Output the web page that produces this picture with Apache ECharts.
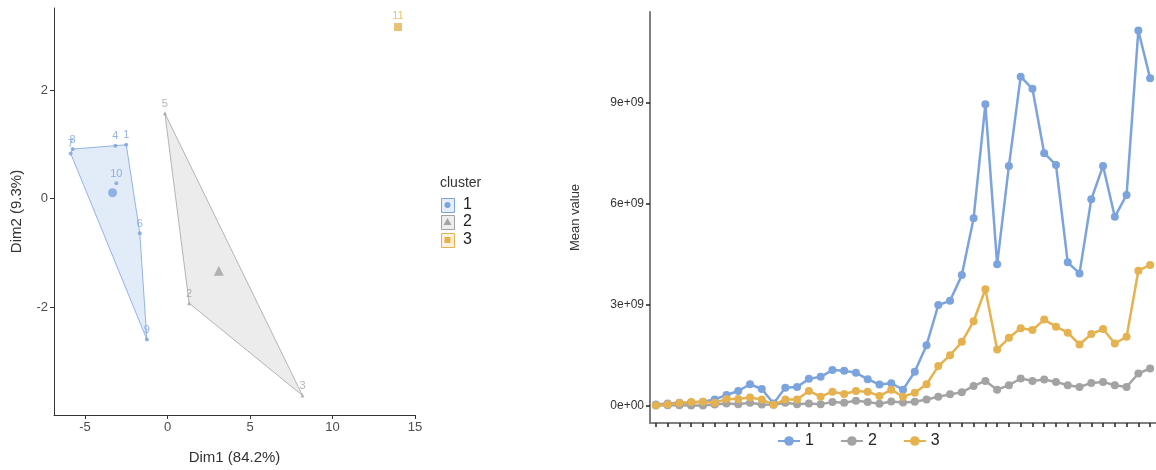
<!DOCTYPE html>
<html>
<head>
<meta charset="utf-8">
<script src="https://cdn.jsdelivr.net/npm/echarts@6/dist/echarts.min.js"></script>
<style>
  html, body { margin: 0; background: #fff; }
  #chart { width: 1156px; height: 470px; }
</style>
</head>
<body>
<div id="chart"></div>
<script>
// ---- left panel: cluster plot ----
var ptNames   = ['1', '2', '3', '4', '5', '6', '7', '8', '9', '10', '11'];
var dim1      = [-2.50, 1.31, 8.18, -3.16, -0.16, -1.68, -5.87, -5.75, -1.25, -3.10, 13.97];
var dim2      = [0.99, -1.93, -3.63, 0.97, 1.57, -0.64, 0.83, 0.91, -2.60, 0.28, 3.16];
var ptCluster = [1, 2, 2, 1, 2, 1, 1, 1, 1, 1, 3];
var hull1 = ['7', '8', '1', '6', '9'];
var hull2 = ['5', '3', '2'];
var dimTicksX = [-5, 0, 5, 10, 15];
var dimTicksY = [-2, 0, 2];

// ---- right panel: mean value per period ----
var periods = ['1', '2', '3', '4', '5', '6', '7', '8', '9', '10', '11', '12', '13', '14', '15',
  '16', '17', '18', '19', '20', '21', '22', '23', '24', '25', '26', '27', '28', '29', '30',
  '31', '32', '33', '34', '35', '36', '37', '38', '39', '40', '41', '42', '43'];
var mean1 = [0.05, 0.08, 0.10, 0.11, 0.13, 0.20, 0.33, 0.45, 0.65, 0.51, 0.08, 0.55, 0.57, 0.81, 0.87,
  1.07, 1.05, 0.99, 0.80, 0.64, 0.68, 0.49, 1.02, 1.81, 3.00, 3.13, 3.89, 5.58, 8.96, 4.21,
  7.13, 9.78, 9.42, 7.51, 7.16, 4.27, 3.94, 6.14, 7.13, 5.62, 6.27, 11.15, 9.73];
var mean2 = [0.02, 0.03, 0.03, 0.02, 0.02, 0.05, 0.08, 0.06, 0.10, 0.05, 0.04, 0.10, 0.06, 0.08, 0.06,
  0.12, 0.10, 0.16, 0.12, 0.07, 0.14, 0.11, 0.13, 0.20, 0.28, 0.35, 0.41, 0.60, 0.75, 0.49,
  0.62, 0.82, 0.75, 0.79, 0.72, 0.62, 0.57, 0.69, 0.72, 0.62, 0.57, 0.97, 1.12];
var mean3 = [0.03, 0.06, 0.09, 0.12, 0.13, 0.10, 0.21, 0.21, 0.26, 0.20, 0.04, 0.20, 0.20, 0.45, 0.28,
  0.43, 0.36, 0.45, 0.43, 0.30, 0.49, 0.28, 0.40, 0.65, 1.19, 1.51, 1.91, 2.52, 3.47, 1.68,
  2.03, 2.31, 2.26, 2.57, 2.36, 2.18, 1.83, 2.14, 2.29, 1.86, 2.06, 4.02, 4.19];  // x 1e9
var meanTicks = [0, 3e9, 6e9, 9e9];

var colors = { 1: '#7ba3dd', 2: '#a3a3a3', 3: '#e5b24f' };
var fills  = { 1: 'rgba(123,163,221,0.22)', 2: 'rgba(170,170,170,0.22)' };
var shapes = { 1: 'circle', 2: 'triangle', 3: 'rect' };

function clusterPoints(c) {
  var out = [];
  for (var i = 0; i < ptNames.length; i++) {
    if (ptCluster[i] === c) out.push([dim1[i], dim2[i], ptNames[i]]);
  }
  return out;
}
function centroid(c) {
  var p = clusterPoints(c), sx = 0, sy = 0;
  p.forEach(function (d) { sx += d[0]; sy += d[1]; });
  return [sx / p.length, sy / p.length];
}
function hullData(names) {
  return names.map(function (n) {
    var i = ptNames.indexOf(n);
    return [dim1[i], dim2[i]];
  });
}
function hullSeries(names, c) {
  var pts = hullData(names);
  return {
    type: 'custom', xAxisIndex: 0, yAxisIndex: 0, silent: true, z: 1,
    data: pts,
    renderItem: function (params, api) {
      if (params.dataIndex !== 0) return null;
      var poly = pts.map(function (p) { return api.coord(p); });
      return {
        type: 'polygon',
        shape: { points: poly },
        style: { fill: fills[c], stroke: colors[c], lineWidth: 0.8 }
      };
    }
  };
}
function scatterSeries(c) {
  return {
    name: 'pts' + c, type: 'scatter', xAxisIndex: 0, yAxisIndex: 0, z: 3,
    symbol: shapes[c], symbolSize: c === 3 ? 8 : 4,
    itemStyle: { color: colors[c] },
    label: {
      show: true, position: 'top', distance: 2, formatter: function (p) { return p.value[2]; },
      color: colors[c], fontSize: 11, fontFamily: 'Liberation Sans'
    },
    data: clusterPoints(c)
  };
}
function centroidSeries(c, size) {
  return {
    name: 'centre' + c, type: 'scatter', xAxisIndex: 0, yAxisIndex: 0, z: 3,
    symbol: shapes[c], symbolSize: size,
    itemStyle: { color: colors[c] },
    data: [centroid(c)]
  };
}
function lineSeries(name, vals, c) {
  return {
    name: name, type: 'line', xAxisIndex: 1, yAxisIndex: 1,
    symbol: 'circle', symbolSize: 8, showSymbol: true, showAllSymbol: true,
    lineStyle: { width: 2.5, color: colors[c] },
    itemStyle: { color: colors[c] },
    data: vals.map(function (v) { return v * 1e9; })
  };
}

var dom = document.getElementById('chart');
var myChart = echarts.init(dom, null, { renderer: 'canvas' });
var axisTxt = { color: '#4d4d4d', fontSize: 13, fontFamily: 'Liberation Sans' };

var option = {
  animation: false,
  backgroundColor: '#fff',
  grid: [
    { left: 54, top: 8, width: 361, height: 407 },
    { left: 650, top: 12, width: 509, height: 411 }
  ],
  xAxis: [
    {
      gridIndex: 0, type: 'value', min: -6.88, max: 15,
      name: 'Dim1 (84.2%)', nameLocation: 'middle', nameGap: 35,
      nameTextStyle: { color: '#333', fontSize: 15, fontFamily: 'Liberation Sans' },
      axisLine: { onZero: false, lineStyle: { color: '#333', width: 1 } },
      axisTick: { show: true, length: 4, customValues: dimTicksX, lineStyle: { color: '#333' } },
      axisLabel: Object.assign({ customValues: dimTicksX, margin: 6 }, axisTxt),
      splitLine: { show: false }
    },
    {
      gridIndex: 1, type: 'category', data: periods, boundaryGap: true,
      axisLine: { onZero: false, lineStyle: { color: '#808080', width: 2 } },
      axisTick: { show: true, alignWithLabel: true, interval: 0, length: 4, lineStyle: { color: '#222', width: 1.5 } },
      axisLabel: { show: false }
    }
  ],
  yAxis: [
    {
      gridIndex: 0, type: 'value', min: -3.99, max: 3.51,
      name: 'Dim2 (9.3%)', nameLocation: 'middle', nameGap: 30,
      nameTextStyle: { color: '#333', fontSize: 15, fontFamily: 'Liberation Sans' },
      axisLine: { show: true, onZero: false, lineStyle: { color: '#333', width: 1 } },
      axisTick: { show: true, length: 4, customValues: dimTicksY, lineStyle: { color: '#333' } },
      axisLabel: Object.assign({ customValues: dimTicksY, margin: 6 }, axisTxt),
      splitLine: { show: false }
    },
    {
      gridIndex: 1, type: 'value', min: -0.5e9, max: 11.7e9,
      name: 'Mean value', nameLocation: 'middle', nameGap: 68,
      nameTextStyle: { color: '#333', fontSize: 13, fontFamily: 'Liberation Sans' },
      axisLine: { show: true, onZero: false, lineStyle: { color: '#808080', width: 2 } },
      axisTick: { show: true, length: 4, customValues: meanTicks, lineStyle: { color: '#222', width: 1.5 } },
      axisLabel: {
        customValues: meanTicks, margin: 6, color: '#333', fontSize: 12,
        fontFamily: 'Liberation Sans Narrow, Liberation Sans',
        formatter: function (v) { return v === 0 ? '0e+00' : (v / 1e9) + 'e+09'; }
      },
      splitLine: { show: false }
    }
  ],
  legend: {
    data: ['1', '2', '3'],
    left: 772, top: 428, itemWidth: 22, itemHeight: 12, itemGap: 26,
    textStyle: { color: '#222', fontSize: 16, fontFamily: 'Liberation Sans' }
  },
  graphic: [
    { type: 'text', left: 440, top: 176, style: { text: 'cluster', fill: '#333', fontSize: 14, fontFamily: 'Liberation Sans' } },
    { type: 'rect', left: 441, top: 198, shape: { width: 13, height: 14 }, style: { fill: '#e6eefa', stroke: '#7ba3dd', lineWidth: 1 } },
    { type: 'circle', left: 444.5, top: 202, shape: { r: 3 }, style: { fill: '#7ba3dd' } },
    { type: 'text', left: 463, top: 197, style: { text: '1', fill: '#222', fontSize: 16, fontFamily: 'Liberation Sans' } },
    { type: 'rect', left: 441, top: 215, shape: { width: 13, height: 14 }, style: { fill: '#eeeeee', stroke: '#a3a3a3', lineWidth: 1 } },
    { type: 'polygon', shape: { points: [[447.5, 218], [451.5, 225], [443.5, 225]] }, style: { fill: '#a3a3a3' } },
    { type: 'text', left: 463, top: 214, style: { text: '2', fill: '#222', fontSize: 16, fontFamily: 'Liberation Sans' } },
    { type: 'rect', left: 441, top: 233, shape: { width: 13, height: 14 }, style: { fill: '#fbf1dc', stroke: '#e5b24f', lineWidth: 1 } },
    { type: 'rect', left: 444.5, top: 237, shape: { width: 6, height: 6 }, style: { fill: '#e5b24f' } },
    { type: 'text', left: 463, top: 232, style: { text: '3', fill: '#222', fontSize: 16, fontFamily: 'Liberation Sans' } }
  ],
  series: [
    hullSeries(hull1, 1),
    hullSeries(hull2, 2),
    scatterSeries(1),
    scatterSeries(2),
    scatterSeries(3),
    centroidSeries(1, 9),
    centroidSeries(2, 10),
    lineSeries('1', mean1, 1),
    lineSeries('2', mean2, 2),
    lineSeries('3', mean3, 3)
  ]
};

if (option && typeof option === 'object') {
  myChart.setOption(option, true);
}
</script>
</body>
</html>
